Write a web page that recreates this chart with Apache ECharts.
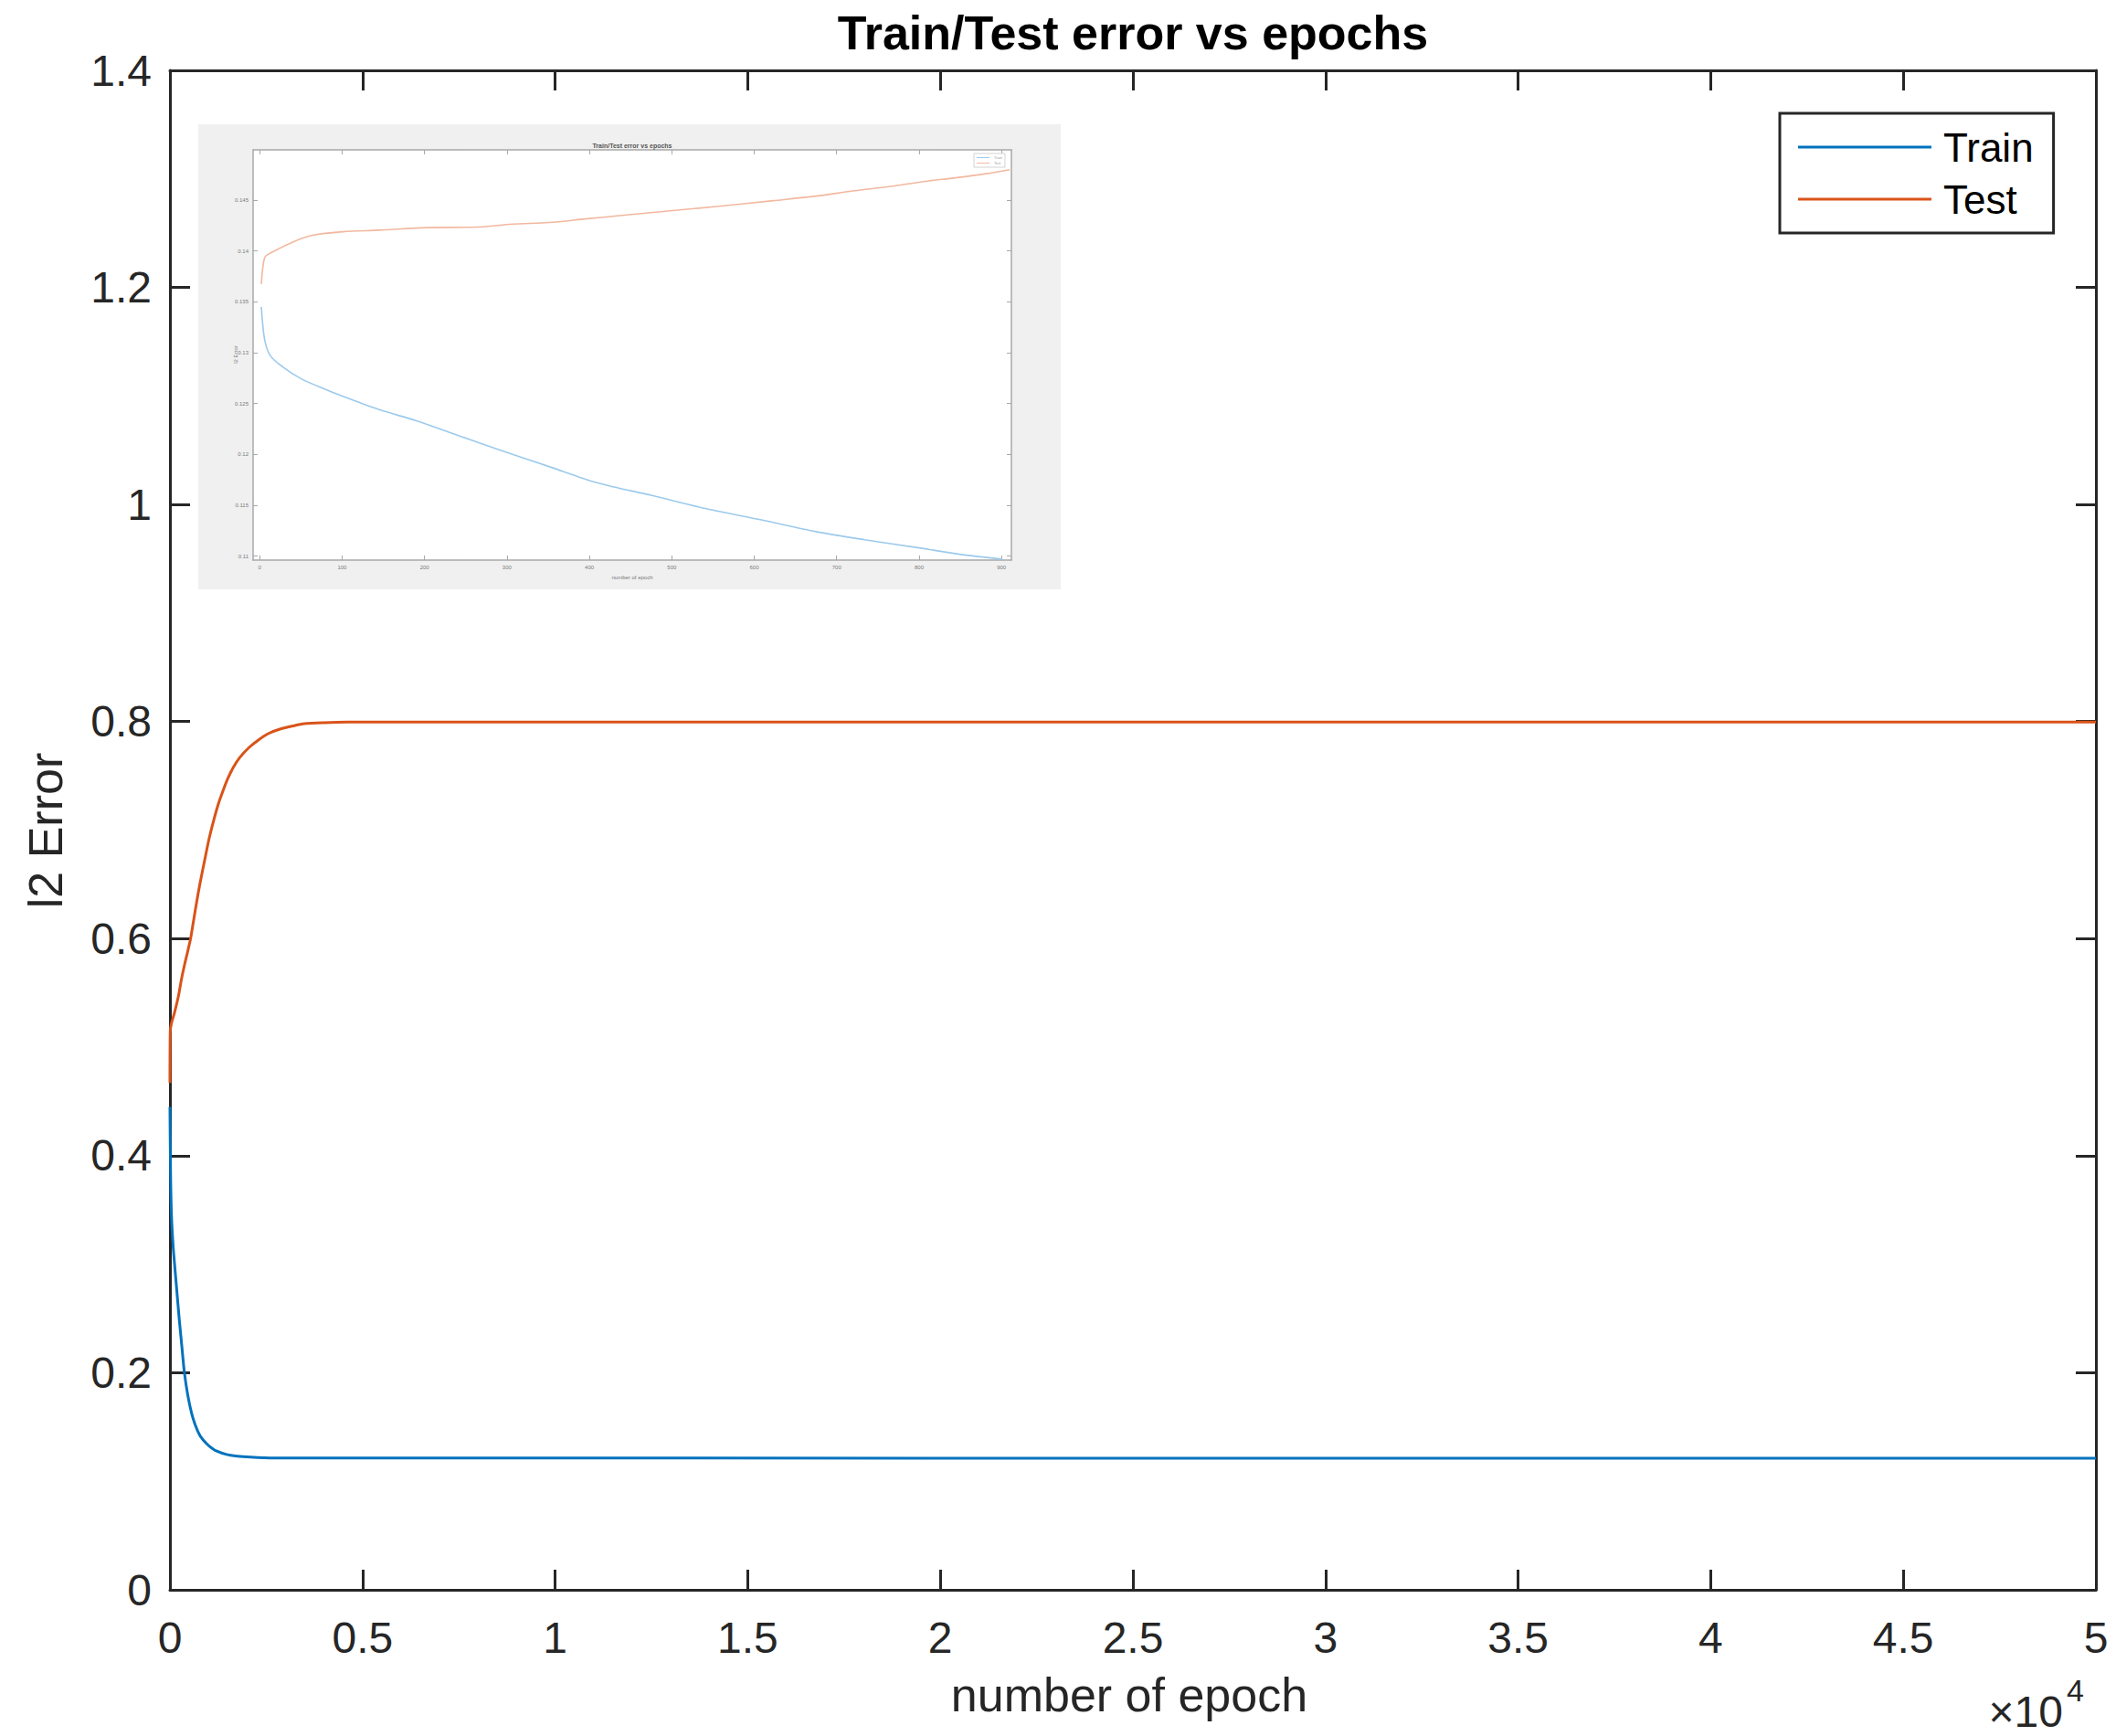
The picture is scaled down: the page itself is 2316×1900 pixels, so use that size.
<!DOCTYPE html>
<html>
<head>
<meta charset="utf-8">
<script src="https://cdn.jsdelivr.net/npm/echarts@6/dist/echarts.min.js"></script>
<style>
  html, body { margin: 0; padding: 0; background: #ffffff; }
  #chart { width: 2316px; height: 1900px; }
</style>
</head>
<body>
<div id="chart"></div>
<script>
// ---------------- Data ----------------
const trainEpochs = [0, 8, 20, 40, 80, 120, 180, 240, 310, 376, 460, 560, 656, 780, 900, 1016, 1200, 1496, 1900, 2600, 50000];
const trainError  = [0.445, 0.41, 0.375, 0.345, 0.318, 0.30, 0.275, 0.25, 0.224, 0.20, 0.18, 0.163, 0.152, 0.142, 0.1365, 0.1325, 0.128, 0.1245, 0.1226, 0.1215, 0.1212];

const testEpochs = [0, 8, 40, 120, 220, 296, 380, 460, 536, 620, 700, 776, 900, 1016, 1136, 1256, 1376, 1496, 1650, 1816, 2050, 2296, 2560, 2856, 3200, 3496, 4000, 4616, 50000];
const testError  = [0.467, 0.515, 0.522, 0.532, 0.547, 0.562, 0.576, 0.588, 0.60, 0.618, 0.635, 0.65, 0.672, 0.692, 0.709, 0.724, 0.736, 0.747, 0.758, 0.767, 0.776, 0.783, 0.789, 0.793, 0.796, 0.798, 0.799, 0.7995, 0.7995];

// Inset (screenshot of an earlier run)
const insetTrainEpochs = [2, 6, 13, 28, 50, 72, 101, 145, 190, 241, 292, 351, 410, 476, 542, 609, 675, 734, 800, 851, 901];
const insetTrainError  = [0.1345, 0.1313, 0.1297, 0.1286, 0.12745, 0.12665, 0.1257, 0.1244, 0.1233, 0.12185, 0.1204, 0.1188, 0.1172, 0.11595, 0.11465, 0.11355, 0.1124, 0.1116, 0.1108, 0.11015, 0.1097];
const insetTestEpochs = [2, 6, 13, 42, 64, 101, 145, 204, 263, 307, 351, 395, 439, 498, 557, 623, 675, 719, 770, 807, 844, 881, 910];
const insetTestError  = [0.13675, 0.13935, 0.1398, 0.14095, 0.14155, 0.1419, 0.14205, 0.1423, 0.14235, 0.14265, 0.1428, 0.14315, 0.1435, 0.14395, 0.1444, 0.14495, 0.1454, 0.1459, 0.1464, 0.14685, 0.1472, 0.1476, 0.148];

const insetXTicks = [0, 100, 200, 300, 400, 500, 600, 700, 800, 900];
const insetYTicks = [0.11, 0.115, 0.12, 0.125, 0.13, 0.135, 0.14, 0.145];

const seriesNames = ['Train', 'Test'];
const titleText = 'Train/Test error vs epochs';
const xName = 'number of epoch';
const yName = 'l2 Error';

// ---------------- Chart ----------------
const FONT = "'Liberation Sans', Arial, Helvetica, sans-serif";
const AX = '#262626';
const BLUE = '#0072BD';
const ORANGE = '#D95319';

const pairs = (xs, ys) => xs.map((x, i) => [x, ys[i]]);

const chart = echarts.init(document.getElementById('chart'), null, { renderer: 'svg', width: 2316, height: 1900 });

const mainAxisCommon = {
  axisLine: { show: true, onZero: false, lineStyle: { color: AX, width: 3 } },
  axisTick: { show: true, inside: true, length: 22, lineStyle: { color: AX, width: 3 } },
  splitLine: { show: false },
  axisLabel: { color: AX, fontFamily: FONT, fontSize: 48 }
};

const insetAxisCommon = {
  axisLine: { show: true, onZero: false, lineStyle: { color: '#a8a8a8', width: 1.5 } },
  axisTick: { show: true, inside: true, length: 5, lineStyle: { color: '#a8a8a8', width: 1 } },
  splitLine: { show: false },
  axisLabel: { color: '#7a7a7a', fontFamily: FONT, fontSize: 6, margin: 5 }
};

const option = {
  animation: false,
  backgroundColor: '#ffffff',
  textStyle: { fontFamily: FONT },
  grid: [
    { left: 186, top: 77, width: 2108, height: 1663, containLabel: false },
    { left: 277, top: 164, width: 830, height: 449, containLabel: false, show: true, backgroundColor: '#ffffff', borderWidth: 0 }
  ],
  xAxis: [
    Object.assign({}, mainAxisCommon, {
      type: 'value', gridIndex: 0, position: 'bottom', min: 0, max: 50000, interval: 5000,
      axisLabel: Object.assign({}, mainAxisCommon.axisLabel, { margin: 28, formatter: v => String(Math.round(v / 1000) / 10) })
    }),
    Object.assign({}, mainAxisCommon, {
      type: 'value', gridIndex: 0, position: 'top', min: 0, max: 50000, interval: 5000,
      axisLabel: { show: false }
    }),
    Object.assign({}, insetAxisCommon, {
      type: 'value', gridIndex: 1, position: 'bottom', min: -8, max: 912,
      axisTick: Object.assign({}, insetAxisCommon.axisTick, { customValues: insetXTicks }),
      axisLabel: Object.assign({}, insetAxisCommon.axisLabel, { customValues: insetXTicks })
    }),
    Object.assign({}, insetAxisCommon, {
      type: 'value', gridIndex: 1, position: 'top', min: -8, max: 912,
      axisTick: Object.assign({}, insetAxisCommon.axisTick, { customValues: insetXTicks }),
      axisLabel: { show: false }
    })
  ],
  yAxis: [
    Object.assign({}, mainAxisCommon, {
      type: 'value', gridIndex: 0, position: 'left', min: 0, max: 1.4, interval: 0.2,
      axisLabel: Object.assign({}, mainAxisCommon.axisLabel, { margin: 20 })
    }),
    Object.assign({}, mainAxisCommon, {
      type: 'value', gridIndex: 0, position: 'right', min: 0, max: 1.4, interval: 0.2,
      axisLabel: { show: false }
    }),
    Object.assign({}, insetAxisCommon, {
      type: 'value', gridIndex: 1, position: 'left', min: 0.1096, max: 0.14995,
      axisTick: Object.assign({}, insetAxisCommon.axisTick, { customValues: insetYTicks }),
      axisLabel: Object.assign({}, insetAxisCommon.axisLabel, { customValues: insetYTicks })
    }),
    Object.assign({}, insetAxisCommon, {
      type: 'value', gridIndex: 1, position: 'right', min: 0.1096, max: 0.14995,
      axisTick: Object.assign({}, insetAxisCommon.axisTick, { customValues: insetYTicks }),
      axisLabel: { show: false }
    })
  ],
  legend: [
    {
      data: seriesNames,
      orient: 'vertical',
      left: 1948, top: 124,
      padding: [15, 22, 15, 20],
      itemGap: 13,
      itemWidth: 146, itemHeight: 3,
      icon: 'rect',
      selectedMode: false,
      backgroundColor: '#ffffff',
      borderColor: AX, borderWidth: 3, borderRadius: 0,
      textStyle: { color: '#000000', fontFamily: FONT, fontSize: 44, lineHeight: 44, padding: [0, 0, 0, 8] }
    },
    {
      data: seriesNames.map(n => n + ' (inset)'),
      formatter: n => n.replace(' (inset)', ''),
      orient: 'vertical',
      left: 1066, top: 168,
      padding: [2, 3, 2, 3],
      itemGap: 1,
      itemWidth: 14, itemHeight: 1,
      icon: 'rect',
      selectedMode: false,
      backgroundColor: '#ffffff',
      borderColor: '#c8c8c8', borderWidth: 0.8, borderRadius: 0,
      textStyle: { color: '#9a9a9a', fontFamily: FONT, fontSize: 4, lineHeight: 5 }
    }
  ],
  graphic: [
    { type: 'rect', z: -10, shape: { x: 217, y: 136, width: 944, height: 509 }, style: { fill: '#f0f0f0' } },
    { type: 'text', z: 10, style: { text: titleText, x: 1240, y: 36, align: 'center', verticalAlign: 'middle', font: "bold 52px " + FONT, fill: '#000000' } },
    { type: 'text', z: 10, style: { text: xName, x: 1236, y: 1855, align: 'center', verticalAlign: 'middle', font: "52px " + FONT, fill: AX } },
    { type: 'text', z: 10, x: 50, y: 909, rotation: Math.PI / 2, style: { text: yName, x: 0, y: 0, align: 'center', verticalAlign: 'middle', font: "52px " + FONT, fill: AX } },
    { type: 'text', z: 10, style: { text: '×10', x: 2258, y: 1873, align: 'right', verticalAlign: 'middle', font: "48px " + FONT, fill: AX } },
    { type: 'text', z: 10, style: { text: '4', x: 2262, y: 1850, align: 'left', verticalAlign: 'middle', font: "34px " + FONT, fill: AX } },
    { type: 'text', z: 10, style: { text: titleText, x: 692, y: 159, align: 'center', verticalAlign: 'middle', font: "bold 7px " + FONT, fill: '#555555' } },
    { type: 'text', z: 10, style: { text: xName, x: 692, y: 632, align: 'center', verticalAlign: 'middle', font: "6px " + FONT, fill: '#777777' } },
    { type: 'text', z: 10, x: 258, y: 388, rotation: Math.PI / 2, style: { text: yName, x: 0, y: 0, align: 'center', verticalAlign: 'middle', font: "6px " + FONT, fill: '#777777' } }
  ],
  series: [
    {
      name: seriesNames[0], type: 'line', xAxisIndex: 0, yAxisIndex: 0,
      data: pairs(trainEpochs, trainError),
      symbol: 'none', smooth: 0.3,
      lineStyle: { color: BLUE, width: 3 }, itemStyle: { color: BLUE }, z: 3
    },
    {
      name: seriesNames[1], type: 'line', xAxisIndex: 0, yAxisIndex: 0,
      data: pairs(testEpochs, testError),
      symbol: 'none', smooth: 0.3,
      lineStyle: { color: ORANGE, width: 3 }, itemStyle: { color: ORANGE }, z: 3
    },
    {
      name: seriesNames[0] + ' (inset)', type: 'line', xAxisIndex: 2, yAxisIndex: 2,
      data: pairs(insetTrainEpochs, insetTrainError),
      symbol: 'none', smooth: 0.3,
      lineStyle: { color: '#9ccaec', width: 1.6 }, itemStyle: { color: '#9ccaec' }, z: 3
    },
    {
      name: seriesNames[1] + ' (inset)', type: 'line', xAxisIndex: 2, yAxisIndex: 2,
      data: pairs(insetTestEpochs, insetTestError),
      symbol: 'none', smooth: 0.3,
      lineStyle: { color: '#f2b89f', width: 1.6 }, itemStyle: { color: '#f2b89f' }, z: 3
    }
  ]
};

chart.setOption(option);
</script>
</body>
</html>
